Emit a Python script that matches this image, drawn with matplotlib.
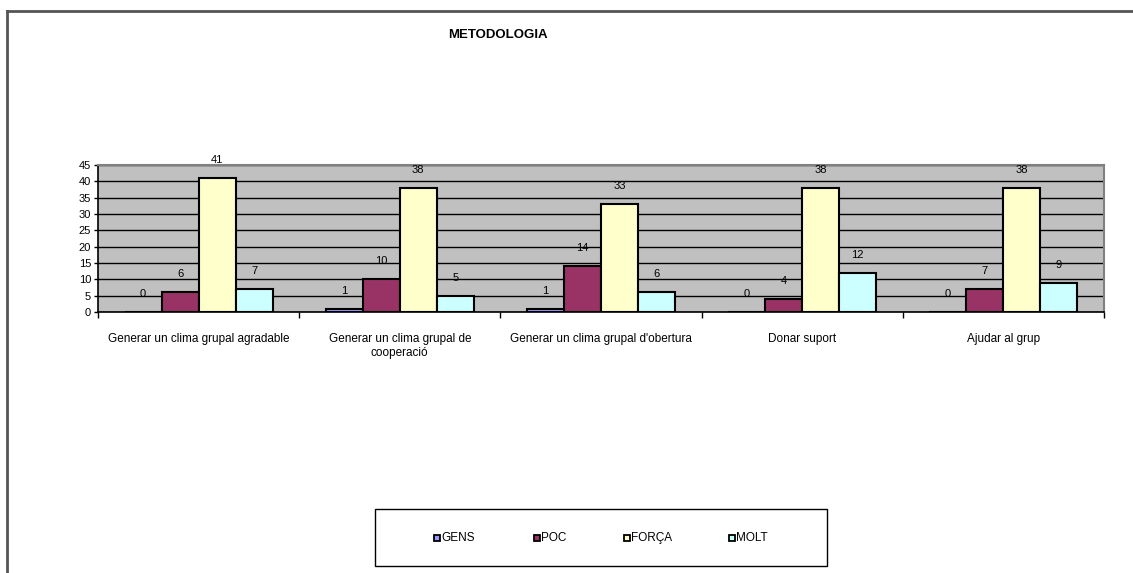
import matplotlib.pyplot as plt
import numpy as np
from matplotlib.patches import Rectangle
from matplotlib.lines import Line2D

plt.rcParams['font.family'] = ['Liberation Sans', 'DejaVu Sans']

categories = ["Generar un clima grupal agradable",
              "Generar un clima grupal de\ncooperació",
              "Generar un clima grupal d'obertura",
              "Donar suport",
              "Ajudar al grup"]
series_names = ["GENS", "POC", "FORÇA", "MOLT"]
gens = [0, 1, 1, 0, 0]
poc = [6, 10, 14, 4, 7]
forca = [41, 38, 33, 38, 38]
molt = [7, 5, 6, 12, 9]
series = [gens, poc, forca, molt]
colours = ["#9999FF", "#993366", "#FFFFCC", "#CCFFFF"]

fig = plt.figure(figsize=(11.33, 5.73), dpi=100)
ax = fig.add_axes([98/1133, 1 - 312/573, (1104 - 98)/1133, (312 - 165)/573])
ax.set_facecolor("#C0C0C0")

x = np.arange(len(categories))
width = 0.184
for k, (vals, c) in enumerate(zip(series, colours)):
    pos = x + (k - 1.5) * width
    ax.bar(pos, vals, width, color=c, edgecolor="black", linewidth=1.5, zorder=3)
    for p, v in zip(pos, vals):
        ax.annotate(str(v), (p, v), xytext=(0, 13), textcoords="offset points",
                    ha="center", va="center", fontsize=8, zorder=4)

ax.set_xlim(-0.5, len(categories) - 0.5)
ax.set_ylim(0, 45)
ax.set_yticks(range(0, 46, 5))
ax.yaxis.grid(True, color="black", linewidth=1, zorder=1)
ax.set_axisbelow(True)
ax.tick_params(axis="y", labelsize=8, length=3, width=1, pad=2)

# category separators as ticks, labels at centres
ax.set_xticks(np.arange(-0.5, len(categories), 1))
ax.set_xticklabels([])
ax.tick_params(axis="x", length=4, width=1)
ax.set_xticks(x, minor=True)
ax.set_xticklabels(categories, minor=True, fontsize=8.5, va="top")
ax.tick_params(axis="x", which="minor", length=0, pad=15)

for s in ["left", "bottom"]:
    ax.spines[s].set_color("black")
    ax.spines[s].set_linewidth(1.2)
for s in ["top", "right"]:
    ax.spines[s].set_color("#808080")
    ax.spines[s].set_linewidth(1.5)

fig.text(498/1133, 1 - 35/573, "METODOLOGIA", ha="center", va="center",
         fontsize=9.5, fontweight="bold")

# chart area border (left and top visible)
fig.add_artist(Line2D([7/1133, 7/1133], [0, 1 - 11/573], color="#555555", linewidth=2))
fig.add_artist(Line2D([7/1133, 1], [1 - 11/573, 1 - 11/573], color="#555555", linewidth=2))

# legend box
fig.add_artist(Rectangle((375/1133, 1 - 566/573), (827 - 375)/1133, (566 - 509)/573,
                         transform=fig.transFigure, fill=False, edgecolor="black",
                         linewidth=1))
legend_x = [437, 537, 627, 732]
for lx, name, c in zip(legend_x, series_names, colours):
    fig.add_artist(Line2D([lx/1133], [1 - 538/573], marker="s", linestyle="none",
                          markersize=5, markerfacecolor=c, markeredgecolor="black",
                          markeredgewidth=1.3))
    fig.text((lx + 4)/1133, 1 - 538/573, name, ha="left", va="center", fontsize=8.5)

fig.savefig("out.png", dpi=100)
